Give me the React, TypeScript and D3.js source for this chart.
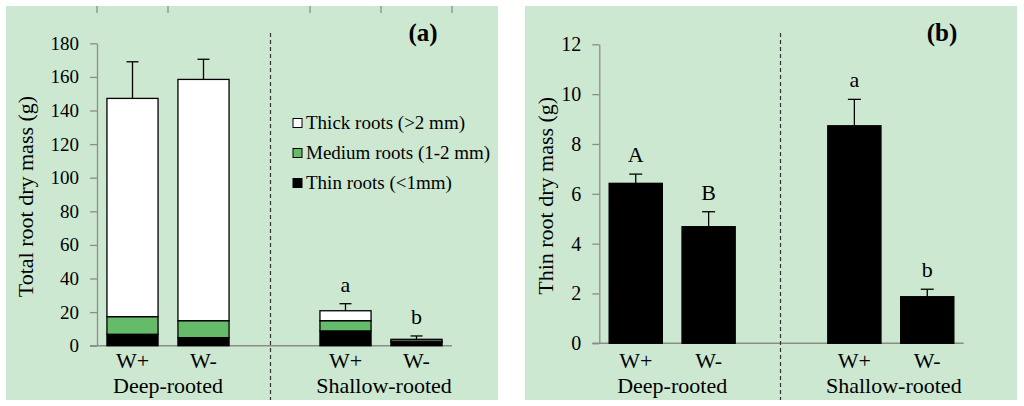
import React from 'react';
import * as d3 from 'd3';
import {useEffect, useRef} from 'react';

// slot "gap" is the empty category between the two root types
const slots = ['deepPlus', 'deepMinus', 'gap', 'shallowPlus', 'shallowMinus'];
const barSlots = ['deepPlus', 'deepMinus', 'shallowPlus', 'shallowMinus'];
const treatmentLabels = ['W+', 'W-', 'W+', 'W-'];
const groupLabels = ['Deep-rooted', 'Shallow-rooted'];

// panel (a): stacked total root dry mass (g)
const thinA = [6.8, 4.8, 8.8, 1.9];
const mediumA = [10.5, 10.1, 6.1, 0.9];
const thickA = [129.9, 143.6, 5.9, 1.0];
const errA = [21.8, 12.0, 4.2, 2.0];
const lettersA = ['', '', 'a', 'b'];
const ticksA = [0, 20, 40, 60, 80, 100, 120, 140, 160, 180];

// panel (b): thin root dry mass (g)
const thinB = [6.42, 4.68, 8.73, 1.87];
const errB = [0.37, 0.6, 1.06, 0.3];
const lettersB = ['A', 'B', 'a', 'b'];
const ticksB = [0, 2, 4, 6, 8, 10, 12];

const legendLabels = ['Thick roots (>2 mm)', 'Medium roots (1-2 mm)', 'Thin roots (<1mm)'];
const legendColors = ['#ffffff', '#66bb6a', '#000000'];

const BG = '#cde8d1';
const AXIS = '#8c8c8c';
const FONT = "'Liberation Serif', 'Times New Roman', 'DejaVu Serif', serif";

const App = () => {
    const chartRef = useRef<SVGSVGElement | null>(null);

    useEffect(() => {
        const svg = d3.select(chartRef.current);
        svg.selectAll('*').remove();

        const txt = (sel: any, size: number) =>
            sel.style('font-family', FONT).style('font-size', size + 'px').attr('fill', '#000');

        const drawPanel = (opts: any) => {
            const {left, right, x0, x1, yBottom, yTop, yMax, ticks, yLabel, tag, tagX, labelX, tickFont, padding} = opts;
            const g = svg.append('g');

            g.append('rect')
                .attr('x', left).attr('y', 6)
                .attr('width', right - left).attr('height', 394)
                .attr('fill', BG);

            const x = d3.scaleBand().domain(slots).range([x0, x1])
                .paddingInner(padding).paddingOuter(padding / 2);
            const y = d3.scaleLinear().domain([0, yMax]).range([yBottom, yTop]);

            // y axis
            const yAxis = g.append('g')
                .attr('transform', `translate(${x0},0)`)
                .call(d3.axisLeft(y).tickValues(ticks).tickSize(7).tickPadding(11).tickSizeOuter(0));
            yAxis.attr('font-family', null).attr('font-size', null);
            yAxis.select('.domain').attr('stroke', AXIS).attr('stroke-width', 1.3);
            yAxis.selectAll('line').attr('stroke', AXIS).attr('stroke-width', 1.3);
            txt(yAxis.selectAll('text'), tickFont);

            // x axis line
            g.append('line')
                .attr('x1', x0 - 7).attr('x2', x1)
                .attr('y1', y(0)).attr('y2', y(0))
                .attr('stroke', AXIS).attr('stroke-width', 1.5);

            // divider
            const dx = (x('gap') as number) + x.bandwidth() / 2 - opts.dashShift;
            g.append('line')
                .attr('x1', dx).attr('x2', dx)
                .attr('y1', 33).attr('y2', 400)
                .attr('stroke', '#333').attr('stroke-width', 1.2)
                .attr('stroke-dasharray', '4,3');

            txt(g.append('text')
                .attr('transform', `translate(${labelX},${(yBottom + yTop) / 2 + 2}) rotate(-90)`)
                .attr('text-anchor', 'middle').attr('dy', '0.35em'), 22)
                .text(yLabel);

            txt(g.append('text')
                .attr('x', tagX).attr('y', 41)
                .attr('text-anchor', 'middle'), 25)
                .style('font-weight', 'bold')
                .text(tag);

            barSlots.forEach((s, i) => {
                txt(g.append('text')
                    .attr('x', (x(s) as number) + x.bandwidth() / 2).attr('y', 368)
                    .attr('text-anchor', 'middle'), 22)
                    .text(treatmentLabels[i]);
            });
            groupLabels.forEach((lab, i) => {
                const a = x(barSlots[i * 2]) as number;
                const b = (x(barSlots[i * 2 + 1]) as number) + x.bandwidth();
                txt(g.append('text')
                    .attr('x', (a + b) / 2 + (i === 1 ? 3 : 0)).attr('y', 393)
                    .attr('text-anchor', 'middle'), 22)
                    .text(lab);
            });

            return {g, x, y};
        };

        // ---------- panel (a)
        const pa = drawPanel({
            left: 6, right: 498, x0: 97, x1: 452, yBottom: 345.7, yTop: 43.3, yMax: 180,
            ticks: ticksA, yLabel: 'Total root dry mass (g)', tag: '(a)', tagX: 423,
            labelX: 25, tickFont: 19, padding: 0.28, dashShift: 4
        });

        // leftover category ticks along the top edge
        const stepA = pa.x.step();
        [0, 1, 3, 4, 5].forEach((i) => {
            pa.g.append('line')
                .attr('x1', 97 + stepA * i).attr('x2', 97 + stepA * i)
                .attr('y1', 6).attr('y2', 13)
                .attr('stroke', AXIS).attr('stroke-width', 1.3);
        });

        const stackData = barSlots.map((s, i) => ({slot: s, thin: thinA[i], medium: mediumA[i], thick: thickA[i]}));
        const stack = d3.stack<any>().keys(['thin', 'medium', 'thick'])(stackData);
        const fills = ['#000000', '#66bb6a', '#ffffff'];
        stack.forEach((layer, li) => {
            pa.g.append('g').selectAll('rect')
                .data(layer)
                .enter()
                .append('rect')
                .attr('x', d => pa.x(d.data.slot) as number)
                .attr('y', d => pa.y(d[1]))
                .attr('width', pa.x.bandwidth())
                .attr('height', d => pa.y(d[0]) - pa.y(d[1]))
                .attr('fill', fills[li])
                .attr('stroke', '#000').attr('stroke-width', 1.3);
        });

        barSlots.forEach((s, i) => {
            const total = thinA[i] + mediumA[i] + thickA[i];
            const cx = (pa.x(s) as number) + pa.x.bandwidth() / 2;
            const yt = pa.y(total + errA[i]);
            pa.g.append('line').attr('x1', cx).attr('x2', cx)
                .attr('y1', pa.y(total)).attr('y2', yt)
                .attr('stroke', '#000').attr('stroke-width', 1.3);
            pa.g.append('line').attr('x1', cx - 6).attr('x2', cx + 6)
                .attr('y1', yt).attr('y2', yt)
                .attr('stroke', '#000').attr('stroke-width', 1.3);
            if (lettersA[i]) {
                txt(pa.g.append('text')
                    .attr('x', cx).attr('y', yt - 12)
                    .attr('text-anchor', 'middle'), 22)
                    .text(lettersA[i]);
            }
        });

        // legend
        legendLabels.forEach((lab, i) => {
            const cy = 123 + i * 30;
            pa.g.append('rect')
                .attr('x', 293).attr('y', cy - 4.5)
                .attr('width', 9).attr('height', 9)
                .attr('fill', legendColors[i])
                .attr('stroke', '#000').attr('stroke-width', 1);
            txt(pa.g.append('text')
                .attr('x', 306).attr('y', cy + 6), 19)
                .text(lab);
        });

        // ---------- panel (b)
        const pb = drawPanel({
            left: 525, right: 1017, x0: 599.3, x1: 963.7, yBottom: 343.3, yTop: 44.3, yMax: 12,
            ticks: ticksB, yLabel: 'Thin root dry mass (g)', tag: '(b)', tagX: 942,
            labelX: 545, tickFont: 20, padding: 0.27, dashShift: 1
        });

        pb.g.append('g').selectAll('rect')
            .data(barSlots)
            .enter()
            .append('rect')
            .attr('x', d => pb.x(d) as number)
            .attr('y', (d, i) => pb.y(thinB[i]))
            .attr('width', pb.x.bandwidth())
            .attr('height', (d, i) => pb.y(0) - pb.y(thinB[i]))
            .attr('fill', '#000')
            .attr('stroke', '#000').attr('stroke-width', 1.3);

        barSlots.forEach((s, i) => {
            const cx = (pb.x(s) as number) + pb.x.bandwidth() / 2;
            const yt = pb.y(thinB[i] + errB[i]);
            pb.g.append('line').attr('x1', cx).attr('x2', cx)
                .attr('y1', pb.y(thinB[i])).attr('y2', yt)
                .attr('stroke', '#000').attr('stroke-width', 1.3);
            pb.g.append('line').attr('x1', cx - 6.5).attr('x2', cx + 6.5)
                .attr('y1', yt).attr('y2', yt)
                .attr('stroke', '#000').attr('stroke-width', 1.3);
            txt(pb.g.append('text')
                .attr('x', cx).attr('y', yt - 12)
                .attr('text-anchor', 'middle'), 22)
                .text(lettersB[i]);
        });
    }, []);

    return (
        <svg ref={chartRef} width={1024} height={406}
             style={{position: 'absolute', left: 0, top: 0, background: '#fff'}}></svg>
    );
};

export default App;
